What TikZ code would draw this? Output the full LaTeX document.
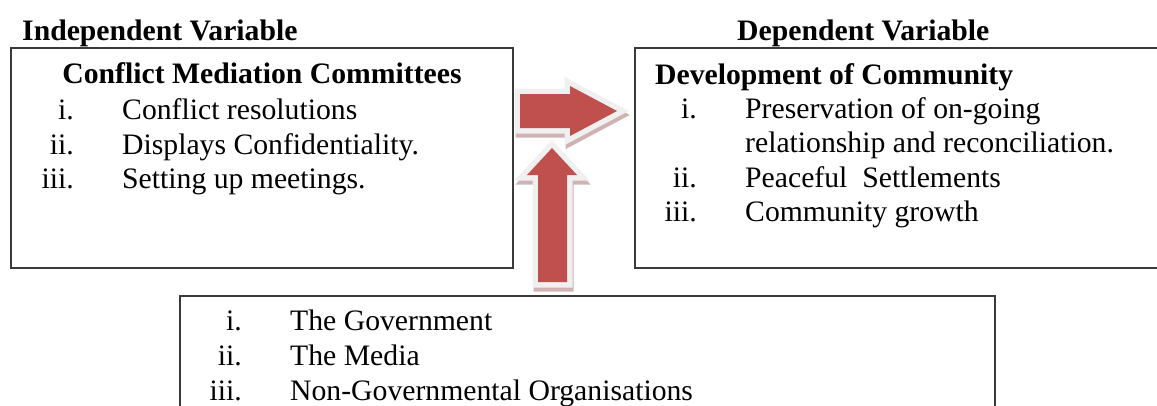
\documentclass[tikz,border=0pt]{standalone}
\usepackage{fontspec}
\setmainfont{Liberation Serif}
\definecolor{arrowred}{HTML}{C0504D}
\definecolor{glowc}{HTML}{F0F0F0}
\definecolor{shadowc}{HTML}{C09898}
\definecolor{boxline}{HTML}{3A3A3A}
\begin{document}
\begin{tikzpicture}[x=1pt,y=-1pt,
  txt/.style={inner sep=0pt, font=\fontsize{29.7}{35}\selectfont},
  num/.style={txt, anchor=base east},
  item/.style={txt, anchor=base west},
  ttl/.style={inner sep=0pt, anchor=base west, font=\fontsize{29.7}{35}\selectfont\bfseries},
  panel/.style={draw=boxline, line width=1.3pt, inner sep=0pt, outer sep=0pt, anchor=north west},
  arrshadow/.style={fill=shadowc, draw=shadowc, line width=11pt, opacity=0.75},
  arrglow/.style={fill=glowc, draw=glowc, line width=11pt},
  arrbody/.style={fill=arrowred, draw=none}
  ]
\useasboundingbox (0,0) rectangle (1157,405);
% boxes
\node[panel, minimum width=502pt, minimum height=220pt] (ivbox) at (11,48) {};
\node[panel, minimum width=540pt, minimum height=220pt] (dvbox) at (635,48) {};
\node[panel, minimum width=815pt, minimum height=130pt] (mvbox) at (180,296) {};
% titles
\node[ttl] (ivt) at (22,40) {Independent Variable};
\node[ttl] (dvt) at (737,40) {Dependent Variable};
% left box
\node[ttl, anchor=base] (ivh) at (262,83) {Conflict Mediation Committees};
\node[num] (iv1n) at (74,119) {i.};
\node[item] (iv1) at (122,119) {Conflict resolutions};
\node[num] (iv2n) at (74,154) {ii.};
\node[item] (iv2) at (122,154) {Displays Confidentiality.};
\node[num] (iv3n) at (74,188) {iii.};
\node[item] (iv3) at (122,188) {Setting up meetings.};
% right box
\node[ttl] (dvh) at (655,84) {Development of Community};
\node[num] (dv1n) at (697,118) {i.};
\node[item] (dv1) at (745,118) {Preservation of on-going};
\node[item] (dv1b) at (745,152.5) {relationship and reconciliation.};
\node[num] (dv2n) at (697,187) {ii.};
\node[item] (dv2) at (745,187) {Peaceful\ \ Settlements};
\node[num] (dv3n) at (697,221.5) {iii.};
\node[item] (dv3) at (745,221.5) {Community growth};
% bottom box
\node[num] (mv1n) at (242,330) {i.};
\node[item] (mv1) at (290,330) {The Government};
\node[num] (mv2n) at (242,365) {ii.};
\node[item] (mv2) at (290,365) {The Media};
\node[num] (mv3n) at (242,400) {iii.};
\node[item] (mv3) at (290,400) {Non-Governmental Organisations};
% block arrows
\def\rarrow{(520,94) -- (570,94) -- (570,86) -- (617,111) -- (570,136) -- (570,128) -- (520,128) -- cycle}
\def\uarrow{(538,282) -- (538,175) -- (527,175) -- (552,148) -- (577,175) -- (567,175) -- (567,282) -- cycle}
\begin{scope}[shift={(1,4)}]
  \path[arrshadow] \rarrow;
\end{scope}
\path[arrglow] \rarrow;
\path[arrbody] \rarrow;
\begin{scope}[shift={(1,4)}]
  \path[arrshadow] \uarrow;
\end{scope}
\path[arrglow] \uarrow;
\path[arrbody] \uarrow;
\end{tikzpicture}
\end{document}
